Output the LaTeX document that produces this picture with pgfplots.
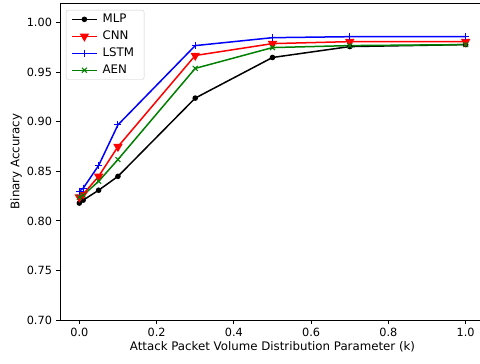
\documentclass[border=0pt]{standalone}
\usepackage{pgfplots}
\pgfplotsset{compat=1.18}
\usepackage{fontspec}
\setmainfont{DejaVu Sans}
\begin{document}
\fontsize{11.8pt}{14pt}\selectfont
\begin{tikzpicture}
\begin{axis}[
  at={(0,0)}, anchor=south west,
  scale only axis, width=425pt, height=317pt,
  xmin=-0.05, xmax=1.05, ymin=0.70, ymax=1.02,
  xtick={0,0.2,0.4,0.6,0.8,1.0},
  ytick={0.70,0.75,0.80,0.85,0.90,0.95,1.00},
  xticklabel style={/pgf/number format/.cd,fixed,fixed zerofill,precision=1},
  yticklabel style={/pgf/number format/.cd,fixed,fixed zerofill,precision=2},
  /pgf/number format/assume math mode=true,
  tick label style={font=\fontsize{11.3pt}{13pt}\selectfont},
  tick align=outside, tick pos=left,
  major tick length=3.9pt,
  tick style={black, line width=0.9pt},
  axis line style={line width=0.9pt},
  xlabel={Attack Packet Volume Distribution Parameter (k)},
  ylabel={Binary Accuracy},
  label style={font=\fontsize{11.8pt}{14pt}\selectfont},
  xlabel style={yshift=3pt},
  ylabel style={yshift=-3pt},
  legend style={at={(axis description cs:0.014,0.978)}, anchor=north west,
    draw=black!20, rounded corners=2pt, font=\fontsize{11.8pt}{14pt}\selectfont,
    row sep=2.5pt, inner xsep=5pt, inner ysep=2pt,
    nodes={inner xsep=5pt}},
  legend cell align=left,
  legend image code/.code={\draw[mark repeat=2,mark phase=2,#1] plot coordinates {(0pt,0pt) (12.5pt,0pt) (25pt,0pt)};},
  every axis plot/.append style={line width=1.5pt},
]
\addplot[black, mark=*, mark size=2pt] coordinates {
(0,0.818) (0.01,0.821) (0.05,0.831) (0.1,0.845) (0.3,0.924) (0.5,0.965) (0.7,0.976) (1.0,0.978)};
\addlegendentry{MLP}
\addplot[red, mark=triangle*, mark size=4pt, mark options={rotate=180}] coordinates {
(0,0.824) (0.01,0.827) (0.05,0.845) (0.1,0.875) (0.3,0.967) (0.5,0.979) (0.7,0.981) (1.0,0.981)};
\addlegendentry{CNN}
\addplot[blue, mark=+, mark size=3.5pt, mark options={line width=1pt}] coordinates {
(0,0.830) (0.01,0.833) (0.05,0.856) (0.1,0.897) (0.3,0.977) (0.5,0.985) (0.7,0.986) (1.0,0.986)};
\addlegendentry{LSTM}
\addplot[color={rgb,255:red,0;green,128;blue,0}, mark=x, mark size=3.5pt, mark options={line width=1pt}] coordinates {
(0,0.824) (0.01,0.826) (0.05,0.840) (0.1,0.862) (0.3,0.954) (0.5,0.975) (0.7,0.977) (1.0,0.978)};
\addlegendentry{AEN}
\end{axis}
\pgfresetboundingbox
\useasboundingbox (-60pt,-44pt) rectangle (420pt,320pt);
\end{tikzpicture}
\end{document}
